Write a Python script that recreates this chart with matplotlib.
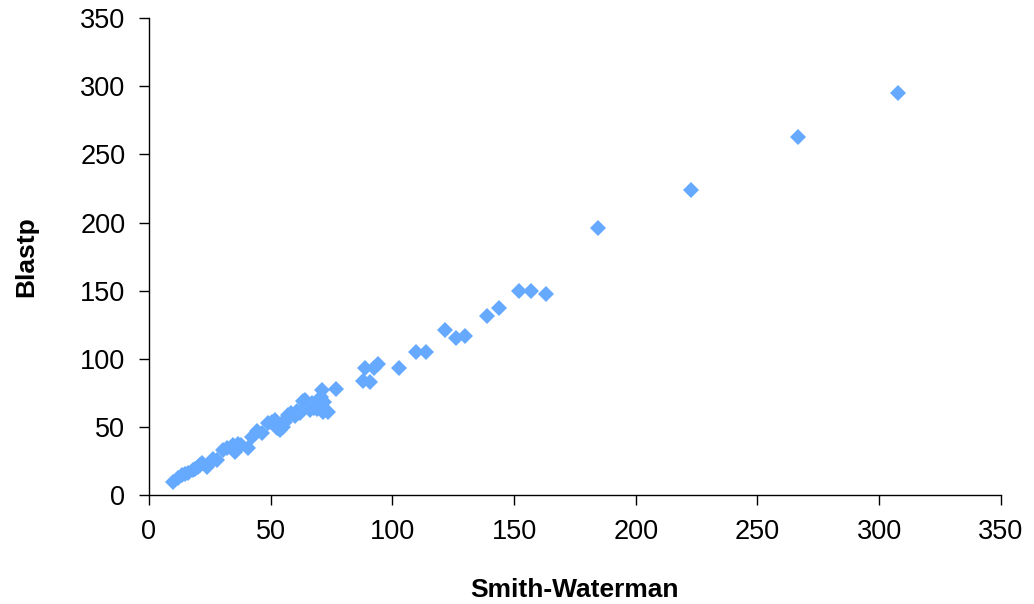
import matplotlib.pyplot as plt

plt.rcParams['font.family'] = ['Liberation Sans', 'DejaVu Sans']

# Smith-Waterman score vs Blastp score
smith_waterman = [
    307.7, 266.6, 222.7, 184.5, 163.1, 156.9, 152.0, 143.8, 138.8, 129.8,
    126.1, 121.6, 113.8, 109.7, 102.7, 94.0, 92.4, 88.7, 91.0, 88.0,
    77.0, 71.0, 64.0, 67.0, 70.0, 71.5, 73.5, 62.0, 60.0, 57.0,
    54.6, 53.8, 51.8, 49.0, 46.4, 42.3, 40.7, 38.0, 35.3, 34.5,
    32.0, 28.0, 25.0, 23.8, 22.0, 20.0, 18.0, 16.0, 13.5, 12.0,
    10.0, 69.0, 72.0, 66.0, 63.5, 56.0, 55.0, 52.5, 50.5, 44.5,
    36.5, 30.5, 26.5, 21.0, 19.0, 15.0, 70.5, 68.0, 61.0, 58.5,
]
blastp = [
    295.0, 262.7, 223.8, 195.9, 147.5, 149.7, 149.7, 137.2, 131.3, 116.7,
    115.5, 121.0, 105.0, 105.0, 93.0, 96.0, 93.0, 93.5, 83.0, 83.6,
    77.8, 77.0, 70.0, 68.0, 66.0, 61.0, 61.0, 60.0, 58.0, 58.7,
    52.8, 47.7, 55.0, 52.8, 45.5, 42.6, 35.0, 36.7, 31.5, 36.7,
    34.5, 25.7, 24.0, 20.5, 23.5, 20.5, 18.3, 16.0, 14.7, 12.5,
    9.5, 63.0, 68.5, 62.5, 69.0, 53.5, 50.0, 49.5, 54.0, 47.0,
    37.5, 33.0, 26.5, 22.0, 19.5, 15.5, 72.0, 64.0, 61.5, 60.5,
]

fig = plt.figure(figsize=(10.34, 6.04), dpi=100)
ax = fig.add_axes([0.144, 0.180, 0.824, 0.790])

ax.plot(smith_waterman, blastp, linestyle='none', marker='D',
        markersize=8.5, color='#66aaff', markeredgewidth=0)

ax.set_xlim(0, 350)
ax.set_ylim(0, 350)
ax.set_xticks(range(0, 351, 50))
ax.set_yticks(range(0, 351, 50))

for side in ['top', 'right']:
    ax.spines[side].set_visible(False)
for side in ['left', 'bottom']:
    ax.spines[side].set_linewidth(1.0)

ax.tick_params(direction='out', length=7, width=1.0, labelsize=19.5, pad=10)
ax.tick_params(axis='x', pad=10)

ax.set_xlabel('Smith-Waterman', fontsize=19, fontweight='bold', labelpad=24)
ax.set_ylabel('Blastp', fontsize=19, fontweight='bold', labelpad=30)

fig.savefig('out.png', dpi=100)
